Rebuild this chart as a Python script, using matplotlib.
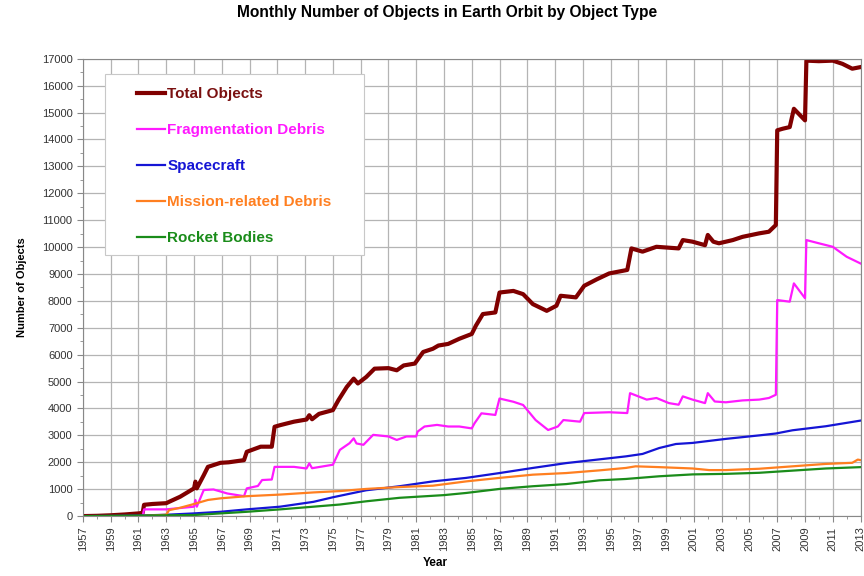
import matplotlib
matplotlib.use("Agg")
import matplotlib.pyplot as plt
from matplotlib.ticker import MultipleLocator
from matplotlib.patches import Rectangle

plt.rcParams['font.family'] = ['Liberation Sans', 'DejaVu Sans']

# (year, count) pairs
total = [(1957, 0), (1958, 10), (1959, 30), (1960, 60), (1961, 100), (1961.3, 120),
         (1961.4, 420), (1962, 450), (1963, 480), (1963.2, 530), (1964, 720), (1965, 1030),
         (1965.1, 1280), (1965.2, 1030), (1965.7, 1520), (1966, 1830), (1966.9, 1980),
         (1967.5, 2000), (1968.6, 2080), (1968.8, 2390), (1969.8, 2580), (1970.6, 2580),
         (1970.8, 3320), (1971.2, 3380), (1972.2, 3510), (1973.1, 3590), (1973.3, 3750),
         (1973.5, 3600), (1974, 3800), (1975, 3940), (1975.4, 4310), (1976, 4800),
         (1976.5, 5110), (1976.8, 4930), (1977.4, 5170), (1978, 5480), (1979, 5500),
         (1979.6, 5420), (1980.1, 5600), (1980.9, 5670), (1981.5, 6100), (1982.2, 6220),
         (1982.6, 6340), (1983.3, 6400), (1984.1, 6590), (1985, 6770), (1985.3, 7080),
         (1985.8, 7510), (1986.7, 7570), (1987, 8310), (1988, 8370), (1988.7, 8250),
         (1989.4, 7880), (1990.4, 7630), (1991.1, 7820), (1991.4, 8190), (1992.5, 8130),
         (1993.1, 8560), (1994, 8800), (1994.9, 9020), (1996.2, 9150), (1996.5, 9950),
         (1997.3, 9830), (1998.3, 10010), (1999.9, 9950), (2000.2, 10260), (2000.9, 10200),
         (2001.8, 10070), (2002, 10450), (2002.4, 10200), (2002.8, 10140), (2003.8, 10260),
         (2004.5, 10380), (2005.7, 10510), (2006.4, 10570), (2006.9, 10820), (2007.0, 14340),
         (2007.4, 14400), (2007.9, 14460), (2008.2, 15140), (2009.0, 14710), (2009.1, 16930),
         (2010, 16910), (2011, 16930), (2011.7, 16810), (2012.4, 16630), (2013, 16690)]

frag = [(1957, 0), (1961.3, 0), (1961.4, 250), (1963, 250), (1965, 350), (1965.1, 600),
        (1965.2, 350), (1965.7, 970), (1966.4, 990), (1967.4, 840), (1968.6, 740),
        (1968.8, 1030), (1969.6, 1120), (1969.9, 1340), (1970.6, 1360), (1970.8, 1830),
        (1972.2, 1830), (1973.1, 1770), (1973.3, 1960), (1973.5, 1780), (1975, 1910),
        (1975.5, 2460), (1976.2, 2710), (1976.5, 2890), (1976.7, 2700), (1977.2, 2650),
        (1977.9, 3020), (1979, 2960), (1979.6, 2830), (1980.3, 2960), (1981, 2960),
        (1981.1, 3140), (1981.6, 3330), (1982.5, 3390), (1983.3, 3330), (1984.1, 3330),
        (1985, 3260), (1985.2, 3450), (1985.7, 3820), (1986.7, 3760), (1987, 4370),
        (1988, 4250), (1988.7, 4130), (1989.6, 3570), (1990.5, 3200), (1991.2, 3330),
        (1991.6, 3570), (1992.8, 3510), (1993.1, 3830), (1994.9, 3860), (1996.2, 3830),
        (1996.4, 4570), (1997.6, 4330), (1998.3, 4390), (1999.2, 4200), (1999.9, 4140),
        (2000.2, 4450), (2000.9, 4330), (2001.8, 4200), (2002, 4570), (2002.5, 4260),
        (2003.3, 4230), (2004.5, 4300), (2005.7, 4330), (2006.4, 4390), (2006.9, 4510),
        (2007.0, 8030), (2007.9, 7970), (2008.2, 8650), (2009.0, 8100), (2009.1, 10260),
        (2010, 10140), (2011, 10010), (2012, 9640), (2013, 9390)]

spacecraft = [(1957, 0), (1959, 5), (1961, 20), (1963, 50), (1965, 100), (1966.9, 160),
              (1968.8, 250), (1971.2, 350), (1973.6, 530), (1975, 700), (1977.4, 960),
              (1979.8, 1110), (1982.2, 1290), (1984.6, 1420), (1987, 1600), (1989.4, 1790),
              (1991.8, 1970), (1993.7, 2080), (1996.1, 2220), (1997.3, 2310), (1998.5, 2530),
              (1999.7, 2680), (2000.9, 2720), (2003.3, 2870), (2005.7, 3000), (2006.9, 3070),
              (2008.1, 3190), (2010.5, 3340), (2013, 3550)]

mission = [(1957, 0), (1961, 0), (1963, 50), (1963.2, 220), (1964, 310), (1965, 450),
           (1966, 600), (1966.9, 660), (1968.8, 740), (1971.2, 800), (1973.6, 880),
           (1975.5, 930), (1977.4, 1010), (1979.8, 1080), (1982.2, 1130), (1984.6, 1290),
           (1987, 1420), (1989.4, 1540), (1991.8, 1600), (1994.2, 1700), (1996.1, 1790),
           (1996.8, 1850), (1998.5, 1820), (2000.9, 1770), (2002.1, 1710), (2003.3, 1710),
           (2005.7, 1760), (2008.1, 1850), (2010.5, 1940), (2012.4, 1980), (2012.8, 2100),
           (2013, 2080)]

rockets = [(1957, 0), (1959, 10), (1961, 20), (1963, 30), (1965, 40), (1966.9, 100),
           (1968.8, 160), (1971.2, 250), (1973.6, 350), (1975.5, 430), (1977.4, 550),
           (1979.8, 680), (1983, 780), (1984.6, 860), (1987, 1010), (1989.4, 1110),
           (1991.8, 1190), (1994.2, 1330), (1996.1, 1380), (1998.5, 1480), (2000.9, 1550),
           (2003.3, 1570), (2005.7, 1610), (2008.1, 1690), (2010.5, 1770), (2013, 1820)]

series = [("Total Objects", total, "#800000", 3.0),
          ("Fragmentation Debris", frag, "#ff1aff", 1.6),
          ("Spacecraft", spacecraft, "#1515d5", 1.6),
          ("Mission-related Debris", mission, "#ff7f20", 1.6),
          ("Rocket Bodies", rockets, "#1a8c1a", 1.6)]

year_ticks = list(range(1957, 2014, 2))

fig = plt.figure(figsize=(8.64, 5.76), dpi=100)
ax = fig.add_axes([0.096, 0.104, 0.9, 0.794])

for name, pts, col, lw in series:
    xs, ys = zip(*pts)
    ax.plot(xs, ys, color=col, lw=lw, label=name, solid_joinstyle="round")

ax.set_xlim(1957, 2013)
ax.set_ylim(0, 17000)
ax.set_xticks(year_ticks)
ax.xaxis.set_minor_locator(MultipleLocator(1))
ax.yaxis.set_major_locator(MultipleLocator(1000))
ax.yaxis.set_minor_locator(MultipleLocator(500))
ax.grid(True, which="major", color="#b4b4b4", lw=0.9)
ax.set_axisbelow(True)
ax.tick_params(axis="both", which="major", labelsize=8, length=4, color="#888888",
               labelcolor="#333333")
ax.tick_params(axis="both", which="minor", length=2, color="#888888")
for lab in ax.get_xticklabels():
    lab.set_rotation(90)
for sp in ax.spines.values():
    sp.set_color("#888888")

ax.set_xlabel("Year", fontsize=8.5, fontweight="bold")
ax.xaxis.set_label_coords(0.453, -0.09)
ax.set_ylabel("Number of Objects", fontsize=8, fontweight="bold")
ax.yaxis.set_label_coords(-0.072, 0.5)

fig.text(0.517, 0.979, "Monthly Number of Objects in Earth Orbit by Object Type",
         ha="center", va="center", fontsize=11.2, fontweight="bold")

# legend frame drawn separately so the padding can match the reference
ax.add_patch(Rectangle((0.028, 0.571), 0.334, 0.396, transform=ax.transAxes,
                       facecolor="white", edgecolor="#c8c8c8", lw=0.8, zorder=4))
leg = ax.legend(loc="upper left", bbox_to_anchor=(0.0695, 0.938), frameon=False,
                handlelength=1.85, handletextpad=0.13, labelspacing=1.44,
                borderpad=0, borderaxespad=0, prop={"size": 11, "weight": "bold"})
leg.set_zorder(5)
for txt, (_, _, col, _) in zip(leg.get_texts(), series):
    txt.set_color(col)
leg.get_texts()[0].set_color("#7a1010")

fig.savefig("out.png", dpi=100)
